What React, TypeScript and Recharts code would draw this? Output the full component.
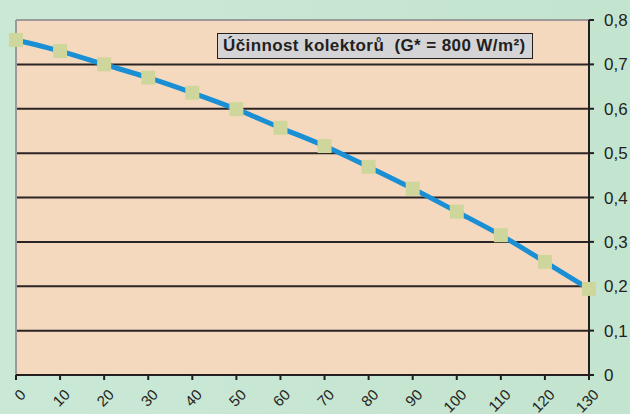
import React from 'react';
import { LineChart, Line, XAxis, YAxis, ReferenceLine, ReferenceArea } from 'recharts';

const temperatures = [0, 10, 20, 30, 40, 50, 60, 70, 80, 90, 100, 110, 120, 130];
const efficiency = [0.755, 0.730, 0.700, 0.670, 0.636, 0.599, 0.557, 0.516, 0.469, 0.420, 0.368, 0.315, 0.255, 0.194];
const yTicks = [0, 0.1, 0.2, 0.3, 0.4, 0.5, 0.6, 0.7, 0.8];
const gridValues = [0.1, 0.2, 0.3, 0.4, 0.5, 0.6, 0.7];
const title = 'Účinnost kolektorů  (G* = 800 W/m²)';

const data = temperatures.map((t, i) => ({ t, eff: efficiency[i] }));

const fmtY = (v: number) => (v === 0 ? '0' : v.toFixed(1).replace('.', ','));

const XTick = (props: any) => {
  const { x, y, payload } = props;
  const ax = x + 7;
  const ay = y + 10;
  return (
    <text
      x={ax}
      y={ay}
      dy="0.35em"
      textAnchor="end"
      transform={`rotate(-45, ${ax}, ${ay})`}
      fontSize={15}
      fill="#231f20"
      fontFamily="'Liberation Sans', Arial, sans-serif"
    >
      {payload.value}
    </text>
  );
};

const Dot = (props: any) => {
  const { cx, cy, index } = props;
  if (cx == null || cy == null) return <g key={index} />;
  return <rect key={index} x={cx - 7} y={cy - 7} width={14} height={14} fill="#cfd69b" />;
};

export default function App() {
  return (
    <div
      style={{
        position: 'absolute',
        left: 0,
        top: 0,
        width: 630,
        height: 414,
        background: 'linear-gradient(90deg, #cae8d6 0%, #c3e4cf 100%)',
        overflow: 'hidden',
      }}
    >
      <LineChart width={630} height={414} data={data} margin={{ top: 20, right: 0, bottom: 0, left: 16 }}>
        <ReferenceArea x1={0} x2={130} y1={0} y2={0.8} fill="#f5d9bf" fillOpacity={1} stroke="none" />
        {gridValues.map((g) => (
          <ReferenceLine key={g} y={g} stroke="#2b2424" strokeWidth={2} />
        ))}
        <ReferenceLine y={0.8} stroke="#9b9b9b" strokeWidth={2} />
        <ReferenceLine x={0} stroke="#9b9b9b" strokeWidth={2} />
        <XAxis
          type="number"
          dataKey="t"
          domain={[0, 130]}
          ticks={temperatures}
          interval={0}
          height={39}
          axisLine={{ stroke: '#231f20', strokeWidth: 2 }}
          tickLine={{ stroke: '#231f20', strokeWidth: 2 }}
          tickSize={5}
          tick={<XTick />}
        />
        <YAxis
          orientation="right"
          domain={[0, 0.8]}
          ticks={yTicks}
          interval={0}
          width={41}
          tickFormatter={fmtY}
          axisLine={{ stroke: '#231f20', strokeWidth: 2 }}
          tickLine={{ stroke: '#231f20', strokeWidth: 2 }}
          tickSize={5}
          tickMargin={10}
          tick={{ fontSize: 17, fill: '#231f20', fontFamily: "'Liberation Sans', Arial, sans-serif" }}
        />
        <Line
          type="monotone"
          dataKey="eff"
          stroke="#1a8fd4"
          strokeWidth={5}
          dot={<Dot />}
          activeDot={false}
          isAnimationActive={false}
        />
      </LineChart>
      <div
        style={{
          position: 'absolute',
          left: 217,
          top: 33,
          width: 316,
          height: 26,
          boxSizing: 'border-box',
          background: '#d4d4d6',
          border: '1.5px solid #231f20',
          fontFamily: "'Liberation Sans', Arial, sans-serif",
          fontWeight: 'bold',
          fontSize: 17,
          letterSpacing: 0.4,
          lineHeight: '23px',
          paddingLeft: 5,
          color: '#231f20',
          whiteSpace: 'pre',
        }}
      >
        {title}
      </div>
    </div>
  );
}
